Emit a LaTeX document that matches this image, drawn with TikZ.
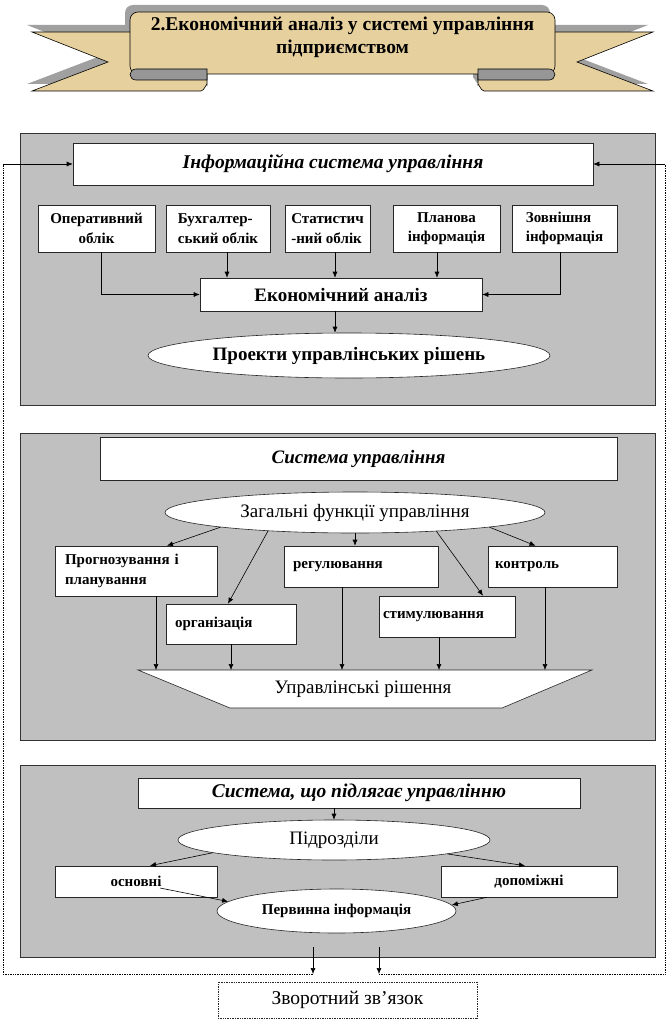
\documentclass[tikz,border=0pt]{standalone}
\usepackage{fontspec}
\setmainfont{Liberation Serif}
\usetikzlibrary{shapes.geometric,arrows.meta,calc}
\definecolor{panelgray}{RGB}{192,192,192}
\definecolor{bannertan}{RGB}{230,208,158}
\definecolor{foldgray}{RGB}{150,150,150}
\definecolor{shadowgray}{RGB}{160,160,160}
\tikzset{
  panel/.style={draw=black!80, fill=panelgray, line width=0.8pt},
  wbox/.style={draw=black!85, fill=white, line width=0.6pt, inner sep=2pt, align=center},
  wellipse/.style={ellipse, draw=black!85, fill=white, line width=0.6pt, inner sep=0pt, align=center},
  arr/.style={-{Latex[length=6pt,width=5pt]}, line width=0.6pt},
  fbline/.style={densely dotted, line width=0.7pt},
  smallbold/.style={font=\bfseries\fontsize{15}{20}\selectfont},
}
\begin{document}
\begin{tikzpicture}[x=1pt,y=-1pt]
\useasboundingbox (0,0) rectangle (668,1022);
% ---------- banner ----------
\begin{scope}[shift={(-5,-7)}]
  \fill[shadowgray] (32,32) -- (150,32) -- (150,70) -- (207,70) -- (207,85) to[out=90,in=0] (201,91) -- (32,91) -- (108,62) -- cycle;
  \fill[shadowgray] (653,32) -- (535,32) -- (535,70) -- (478,70) -- (478,85) to[out=90,in=180] (484,91) -- (653,91) -- (577,62) -- cycle;
  \fill[shadowgray, rounded corners=8] (130,12) rectangle (555,74);
\end{scope}
\draw[fill=bannertan, line width=0.6pt] (32,32) -- (150,32) -- (150,70) -- (207,70) -- (207,85) to[out=90,in=0] (201,91) -- (32,91) -- (108,62) -- cycle;
\draw[fill=bannertan, line width=0.6pt] (653,32) -- (535,32) -- (535,70) -- (478,70) -- (478,85) to[out=90,in=180] (484,91) -- (653,91) -- (577,62) -- cycle;
\draw[fill=bannertan, line width=0.6pt, rounded corners=8] (130,12) rectangle (555,74);
\draw[fill=foldgray, line width=0.6pt] (207,69) -- (136,69) arc[start angle=90, end angle=270, x radius=6, y radius=-5.5] -- (207,80) -- cycle;
\draw[fill=foldgray, line width=0.6pt] (478,69) -- (549,69) arc[start angle=90, end angle=-90, x radius=6, y radius=-5.5] -- (478,80) -- cycle;
\node[font=\bfseries\fontsize{19.5}{23}\selectfont, align=center] (title) at (342.5,37) {2.Економічний аналіз у системі управління\\підприємством};
% ---------- panels ----------
\draw[panel] (20,133) rectangle (655,405);
\draw[panel] (20,433) rectangle (655,740);
\draw[panel] (20,765) rectangle (655,957);
% ---------- panel 1 ----------
\node[wbox, minimum width=520, minimum height=42, font=\bfseries\itshape\fontsize{19.5}{22}\selectfont] (info) at (333,164) {Інформаційна система управління};
\begin{scope}[every node/.append style={font=\bfseries\fontsize{15}{19.5}\selectfont, minimum height=47}]
\node[wbox, minimum width=117] (b1) at (96.5,228.5) {Оперативний\\облік};
\node[wbox, minimum width=104, align=left] (b2) at (218,228.5) {Бухгалтер-\\ський облік};
\node[wbox, minimum width=85, align=left] (b3) at (327.5,228.5) {Статистич\\-ний облік};
\node[wbox, minimum width=107] (b4) at (446.5,228.5) {Планова\\інформація};
\node[wbox, minimum width=105, align=left] (b5) at (564.5,228.5) {Зовнішня\\інформація};
\end{scope}
\node[wbox, minimum width=282, minimum height=33, font=\bfseries\fontsize{19}{22}\selectfont] (ea) at (341,294.5) {Економічний аналіз};
\node[wellipse, minimum width=402, minimum height=45, font=\bfseries\fontsize{19}{22}\selectfont] (pr1) at (349,355.5) {Проекти управлінських рішень};
\draw[arr] ([xshift=4.5]b1.south) |- (ea.west);
\draw[arr] ([xshift=9]b2.south) -- ([xshift=9]b2.south |- ea.north);
\draw[arr] ([xshift=7.5]b3.south) -- ([xshift=7.5]b3.south |- ea.north);
\draw[arr] ([xshift=-9.5]b4.south) -- ([xshift=-9.5]b4.south |- ea.north);
\draw[arr] ([xshift=-4.5]b5.south) |- (ea.east);
\draw[arr] ([xshift=-6]ea.south) -- ([xshift=-6]ea.south |- pr1.north);
% ---------- panel 2 ----------
\node[wbox, minimum width=517, minimum height=43, font=\bfseries\itshape\fontsize{19}{22}\selectfont] (sys) at (358.5,458.5) {Система управління};
\node[wellipse, minimum width=380, minimum height=41, font=\fontsize{19}{22}\selectfont] (gf) at (355,512.5) {Загальні функції управління};
\node[wbox, smallbold, align=left, minimum height=50, text width=142, inner xsep=10] (pl) at (136,571) {Прогнозування і\\планування};
\node[wbox, smallbold, align=left, minimum height=41, text width=136, inner xsep=9] (reg) at (361,566.5) {регулювання};
\node[wbox, smallbold, align=left, minimum height=41, text width=115, inner xsep=7] (kon) at (552.5,566.5) {контроль};
\node[wbox, smallbold, align=left, minimum height=40, text width=112, inner xsep=9] (org) at (231,624) {організація};
\node[wbox, smallbold, align=left, minimum height=41, text width=128, inner xsep=4] (stim) at (447,616.5) {стимулювання\\[1pt]};
\coordinate (trtop) at (363,670);
\draw[fill=white, draw=black!85, line width=0.6pt] (138,670) -- (592,670) -- (502,708) -- (230,708) -- cycle;
\node[font=\fontsize{19}{22}\selectfont] (ur) at (363,689) {Управлінські рішення};
\draw[arr] (gf.south west) -- ([xshift=31]pl.north);
\draw[arr] (gf.south) -- (gf.south |- reg.north);
\draw[arr] (gf.south east) -- ([xshift=-17]kon.north);
\draw[arr] (gf.192) -- ([xshift=-3]org.north);
\draw[arr] (gf.347) -- ([xshift=36]stim.north);
\draw[arr] ([xshift=20]pl.south) -- ([xshift=20]pl.south |- trtop);
\draw[arr] (org.south) -- (org.south |- trtop);
\draw[arr] ([xshift=-19]reg.south) -- ([xshift=-19]reg.south |- trtop);
\draw[arr] ([xshift=-8]stim.south) -- ([xshift=-8]stim.south |- trtop);
\draw[arr] ([xshift=-7.5]kon.south) -- ([xshift=-7.5]kon.south |- trtop);
% ---------- panel 3 ----------
\node[wbox, minimum width=442, minimum height=30, font=\bfseries\itshape\fontsize{19.5}{22}\selectfont] (sub) at (359,793) {Система, що підлягає управлінню};
\node[wellipse, minimum width=312, minimum height=40, font=\fontsize{19}{22}\selectfont] (pd) at (334,840) {Підрозділи};
\node[wbox, smallbold, minimum width=162, minimum height=31] (osn) at (136,881.5) {основні};
\node[wbox, smallbold, minimum width=176, minimum height=31] (dop) at (529,881.5) {допоміжні};
\node[wellipse, smallbold, minimum width=239, minimum height=44] (pi) at (336.5,911) {Первинна інформація};
\draw[arr] (pd.north |- sub.south) -- (pd.north);
\draw[arr] (pd.186) -- ([xshift=14]osn.north);
\draw[arr] (pd.353) -- ([xshift=-4]dop.north);
\draw[arr] ($(osn.center)+(24,6.5)$) -- (pi.175);
\draw[arr] ([xshift=-42]dop.south) -- (pi.3);
% ---------- feedback ----------
\coordinate (dl0) at (313,947);
\coordinate (dl1) at (313,974);
\coordinate (dr0) at (379,947);
\coordinate (dr1) at (379,974);
\draw[arr] (dl0) -- (dl1);
\draw[arr] (dr0) -- (dr1);
\draw[fbline] (dl1) -- (3,974) -- (3,164);
\draw[fbline] (dr1) -- (665,974) -- (665,164);
\draw[arr] (3,164) -- (info.west);
\draw[arr] (665,164) -- (info.east);
\node[draw=black!85, densely dotted, line width=0.7pt, minimum width=259, minimum height=36, font=\fontsize{19.5}{22}\selectfont] (fb) at (347.5,1000) {Зворотний зв’язок};
\end{tikzpicture}
\end{document}
